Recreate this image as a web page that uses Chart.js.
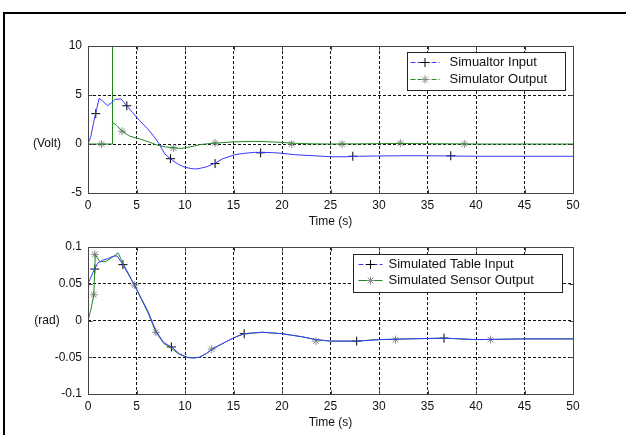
<!DOCTYPE html>
<html>
<head>
<meta charset="utf-8">
<script src="https://cdn.jsdelivr.net/npm/chart.js@4.4.1/dist/chart.umd.min.js"></script>
<style>
  body { margin: 0; background: #fff; }
  #frame { position: absolute; left: 3px; top: 12px; width: 700px; height: 500px;
           border-left: 2px solid #000; border-top: 2px solid #000; }
  canvas { position: absolute; left: 0; }
  #topChart { top: 0; }
  #bottomChart { top: 215px; }
</style>
</head>
<body>
<div id="frame"></div>
<canvas id="topChart" width="626" height="232"></canvas>
<canvas id="bottomChart" width="626" height="220"></canvas>
<script>
// ---- top plot: simulator (Volt) ----
const simInputT = [0, 0.3, 0.6, 0.9, 1.15, 1.5, 2.0, 2.4, 2.8, 3.4, 4.0, 4.6, 5.3, 6.1, 6.7, 7.3, 7.9, 8.5, 9.2, 9.9,
                   10.6, 11.1, 11.7, 12.3, 13.1, 13.9, 15.1, 16.1, 17.2, 18.0, 19.0, 20.0, 21.4, 23.3, 25, 26.5, 28,
                   30, 32, 35, 37, 40, 45, 50];
const simInputV = [0, 0.8, 2.3, 3.6, 4.66, 4.4, 3.9, 4.2, 4.55, 4.6, 3.9, 3.2, 2.4, 1.6, 0.9, 0.07, -1.0, -1.5, -2.0, -2.35,
                   -2.5, -2.55, -2.45, -2.3, -1.95, -1.5, -1.1, -0.95, -0.85, -0.85, -0.88, -0.95, -1.1, -1.2, -1.3, -1.3, -1.25,
                   -1.22, -1.2, -1.2, -1.22, -1.25, -1.25, -1.25];
const simOutputT = [0, 2.5, 2.5, 2.55, 2.95, 3.5, 4.3, 5.4, 6.3, 7.1, 8.0, 8.9, 9.6, 10.2, 11.0, 11.6, 13.0, 15.1, 17.2,
                    19.3, 21.4, 23, 25, 28, 32, 36, 40, 45, 50];
const simOutputV = [0, 0, 14, 2.2, 1.9, 1.35, 0.8, 0.5, 0.2, -0.1, -0.3, -0.4, -0.45, -0.35, -0.2, -0.05, 0.08, 0.22, 0.27,
                    0.2, 0.07, 0.02, 0, 0.02, 0.05, 0.03, 0, 0, 0];
const simInputMarkT = [0.8, 4.0, 8.5, 13.1, 17.8, 27.3, 37.4];
const simInputMarkV = [3.1, 3.9, -1.5, -2.0, -0.9, -1.25, -1.2];
const simOutputMarkT = [1.4, 3.5, 8.8, 13.1, 21.0, 26.2, 32.2, 38.8];
const simOutputMarkV = [0, 1.3, -0.4, 0.1, 0, 0, 0.1, 0];
const voltTicks = [-5, 0, 5, 10];

// ---- bottom plot: table (rad) ----
const tableInputT = [0, 0.5, 1.0, 1.5, 2.0, 2.5, 3.0, 3.6, 4.2, 4.8, 5.5, 6.2, 7.0, 7.8, 8.6, 9.4, 10.2, 10.8, 11.5, 12.2,
                     12.8, 13.5, 14.5, 15.3, 16.1, 17, 18, 19, 20, 21, 22, 23.5, 25, 27.7, 30, 33, 36.7, 40, 45, 50];
const tableInputV = [0.05, 0.065, 0.078, 0.082, 0.084, 0.087, 0.088, 0.076, 0.062, 0.048, 0.03, 0.012, -0.014, -0.03, -0.036,
                     -0.045, -0.05, -0.051, -0.05, -0.045, -0.039, -0.034, -0.027, -0.022, -0.018, -0.017, -0.016, -0.017,
                     -0.018, -0.02, -0.022, -0.026, -0.028, -0.028, -0.026, -0.025, -0.024, -0.026, -0.025, -0.025];
const sensorOutputT = [0, 0.3, 0.6, 0.75, 1.2, 1.8, 2.4, 3.1, 3.6, 4.2, 4.8, 5.5, 6.2, 7.0, 7.8, 8.6, 9.4, 10.2, 10.8, 11.5,
                       12.2, 12.8, 13.5, 14.5, 15.3, 16.1, 17, 18, 19, 20, 21, 22, 23.5, 25, 27.7, 30, 33, 36.7, 40, 45, 50];
const sensorOutputV = [0, 0.015, 0.035, 0.09, 0.08, 0.08, 0.085, 0.092, 0.078, 0.063, 0.048, 0.029, 0.01, -0.016, -0.031,
                       -0.038, -0.046, -0.05, -0.051, -0.05, -0.045, -0.039, -0.034, -0.027, -0.022, -0.018, -0.017, -0.016,
                       -0.017, -0.018, -0.02, -0.022, -0.026, -0.028, -0.028, -0.026, -0.025, -0.024, -0.026, -0.025, -0.025];
const tableInputMarkT = [0.7, 3.6, 8.6, 16.1, 27.7, 36.7];
const tableInputMarkV = [0.07, 0.076, -0.036, -0.018, -0.028, -0.024];
const sensorOutputMarkT = [0.6, 0.7, 4.8, 7.0, 12.75, 23.5, 31.7, 41.5];
const sensorOutputMarkV = [0.035, 0.09, 0.048, -0.016, -0.039, -0.028, -0.026, -0.026];
const radTicks = [-0.1, -0.05, 0, 0.05, 0.1];

const timeTicks = [0, 5, 10, 15, 20, 25, 30, 35, 40, 45, 50];

const FONT = '"Liberation Sans", Arial, sans-serif';
const BLUE = '#3838ff';
const GREEN = '#1f8a1f';
const STAR = '#8a8a8a';
const BOX = '#444';

function toPoints(xs, ys) {
    return xs.map((x, i) => ({ x: x, y: ys[i] }));
}

// axes box, inner tick marks, axis titles and the legend
const framePlugin = {
    id: 'frame',
    afterDraw(chart, args, opts) {
        const ctx = chart.ctx, a = chart.chartArea;
        const xs = chart.scales.x, ys = chart.scales.y;
        ctx.save();
        ctx.strokeStyle = BOX;
        ctx.lineWidth = 1;
        ctx.setLineDash([]);
        const l = Math.round(a.left) + 0.5, t = Math.round(a.top) + 0.5;
        const r = Math.round(a.right) + 0.5, b = Math.round(a.bottom) + 0.5;
        ctx.strokeRect(l, t, r - l, b - t);
        ctx.beginPath();
        xs.ticks.forEach(tk => {
            const px = Math.round(xs.getPixelForValue(tk.value)) + 0.5;
            ctx.moveTo(px, t); ctx.lineTo(px, t + 4);
            ctx.moveTo(px, b); ctx.lineTo(px, b - 4);
        });
        ys.ticks.forEach(tk => {
            const py = Math.round(ys.getPixelForValue(tk.value)) + 0.5;
            ctx.moveTo(l, py); ctx.lineTo(l + 4, py);
            ctx.moveTo(r, py); ctx.lineTo(r - 4, py);
        });
        ctx.stroke();

        ctx.fillStyle = '#111';
        ctx.font = '12px ' + FONT;
        ctx.textAlign = 'center';
        ctx.textBaseline = 'middle';
        ctx.fillText(opts.xTitle, (a.left + a.right) / 2, a.bottom + 29);
        ctx.fillText(opts.yTitle, a.left - 41, ys.getPixelForValue(0));

        // legend
        const L = opts.legend;
        const bx = Math.round(a.right - L.right - L.width) + 0.5;
        const by = Math.round(a.top + L.top) + 0.5;
        ctx.fillStyle = '#fff';
        ctx.fillRect(bx, by, L.width, L.height);
        ctx.strokeStyle = '#222';
        ctx.strokeRect(bx, by, L.width, L.height);
        ctx.font = '13px ' + FONT;
        ctx.textAlign = 'left';
        L.entries.forEach((e, i) => {
            const y = Math.round(by + L.rowTop + i * L.rowGap) + 0.5;
            ctx.strokeStyle = e.color;
            ctx.setLineDash(e.dash);
            ctx.beginPath();
            ctx.moveTo(bx + L.lineX0, y);
            ctx.lineTo(bx + L.lineX1, y);
            ctx.stroke();
            ctx.setLineDash([]);
            ctx.strokeStyle = e.markColor;
            ctx.fillStyle = e.markColor;
            Chart.helpers.drawPoint(ctx, {
                pointStyle: e.marker, radius: e.marker === 'cross' ? 4.5 : 4, rotation: 0, borderWidth: 1
            }, bx + (L.lineX0 + L.lineX1) / 2, y);
            ctx.fillStyle = '#111';
            ctx.fillText(e.label, bx + L.textX, y);
        });
        ctx.restore();
    }
};

function gridColor(min, max) {
    return c => (c.tick && (c.tick.value === min || c.tick.value === max)) ? 'rgba(0,0,0,0)' : '#111';
}

function makeChart(id, cfg) {
    const ctx = document.getElementById(id).getContext('2d');
    const lineSet = (label, xs, ys, color) => ({
        label: label, data: toPoints(xs, ys), borderColor: color, borderWidth: 1,
        pointRadius: 0, tension: 0, fill: false
    });
    const markSet = (xs, ys, style, color, radius) => ({
        data: toPoints(xs, ys), showLine: false, pointStyle: style, pointRadius: radius,
        pointBorderColor: color, pointBackgroundColor: color, pointBorderWidth: 1
    });
    return new Chart(ctx, {
        type: 'line',
        data: {
            datasets: [
                lineSet(cfg.names[0], cfg.inT, cfg.inV, BLUE),
                lineSet(cfg.names[1], cfg.outT, cfg.outV, GREEN),
                markSet(cfg.inMarkT, cfg.inMarkV, 'cross', '#000', 4.5),
                markSet(cfg.outMarkT, cfg.outMarkV, 'star', STAR, 4)
            ]
        },
        options: {
            responsive: false,
            animation: false,
            devicePixelRatio: 1,
            layout: { padding: { left: 0, right: 53, top: cfg.top, bottom: 0 } },
            plugins: {
                legend: { display: false },
                tooltip: { enabled: false },
                frame: cfg.frame
            },
            scales: {
                x: {
                    type: 'linear', min: 0, max: 50,
                    afterBuildTicks: s => { s.ticks = timeTicks.map(v => ({ value: v })); },
                    afterFit: s => { s.height = cfg.xAxisH; },
                    border: { display: false, dash: [3, 2] },
                    grid: { color: gridColor(0, 50), lineWidth: 1, drawTicks: false },
                    ticks: { padding: 5, color: '#111', font: { family: FONT, size: 12 }, maxRotation: 0 }
                },
                y: {
                    min: cfg.yTicks[0], max: cfg.yTicks[cfg.yTicks.length - 1],
                    afterBuildTicks: s => { s.ticks = cfg.yTicks.map(v => ({ value: v })); },
                    afterFit: s => { s.width = 88; },
                    border: { display: false, dash: [3, 2] },
                    grid: { color: gridColor(cfg.yTicks[0], cfg.yTicks[cfg.yTicks.length - 1]), lineWidth: 1, drawTicks: false },
                    ticks: { padding: 6, color: '#111', font: { family: FONT, size: 12 }, callback: v => String(v) }
                }
            }
        },
        plugins: [framePlugin]
    });
}

makeChart('topChart', {
    names: ['Simualtor Input', 'Simulator Output'],
    inT: simInputT, inV: simInputV, outT: simOutputT, outV: simOutputV,
    inMarkT: simInputMarkT, inMarkV: simInputMarkV, outMarkT: simOutputMarkT, outMarkV: simOutputMarkV,
    yTicks: voltTicks, top: 46, xAxisH: 39,
    frame: {
        xTitle: 'Time (s)', yTitle: '(Volt)',
        legend: {
            right: 8, top: 6, width: 158, height: 38, rowTop: 9, rowGap: 17, lineX0: 3, lineX1: 32, textX: 42,
            entries: [
                { label: 'Simualtor Input', color: BLUE, dash: [5, 2], marker: 'cross', markColor: '#000' },
                { label: 'Simulator Output', color: GREEN, dash: [5, 2], marker: 'star', markColor: STAR }
            ]
        }
    }
});

makeChart('bottomChart', {
    names: ['Simulated Table Input', 'Simulated Sensor Output'],
    inT: tableInputT, inV: tableInputV, outT: sensorOutputT, outV: sensorOutputV,
    inMarkT: tableInputMarkT, inMarkV: tableInputMarkV, outMarkT: sensorOutputMarkT, outMarkV: sensorOutputMarkV,
    yTicks: radTicks, top: 32, xAxisH: 41,
    frame: {
        xTitle: 'Time (s)', yTitle: '(rad)',
        legend: {
            right: 11, top: 7, width: 209, height: 38, rowTop: 9, rowGap: 16, lineX0: 5, lineX1: 29, textX: 35,
            entries: [
                { label: 'Simulated Table Input', color: BLUE, dash: [5, 2], marker: 'cross', markColor: '#000' },
                { label: 'Simulated Sensor Output', color: GREEN, dash: [], marker: 'star', markColor: STAR }
            ]
        }
    }
});
</script>
</body>
</html>
